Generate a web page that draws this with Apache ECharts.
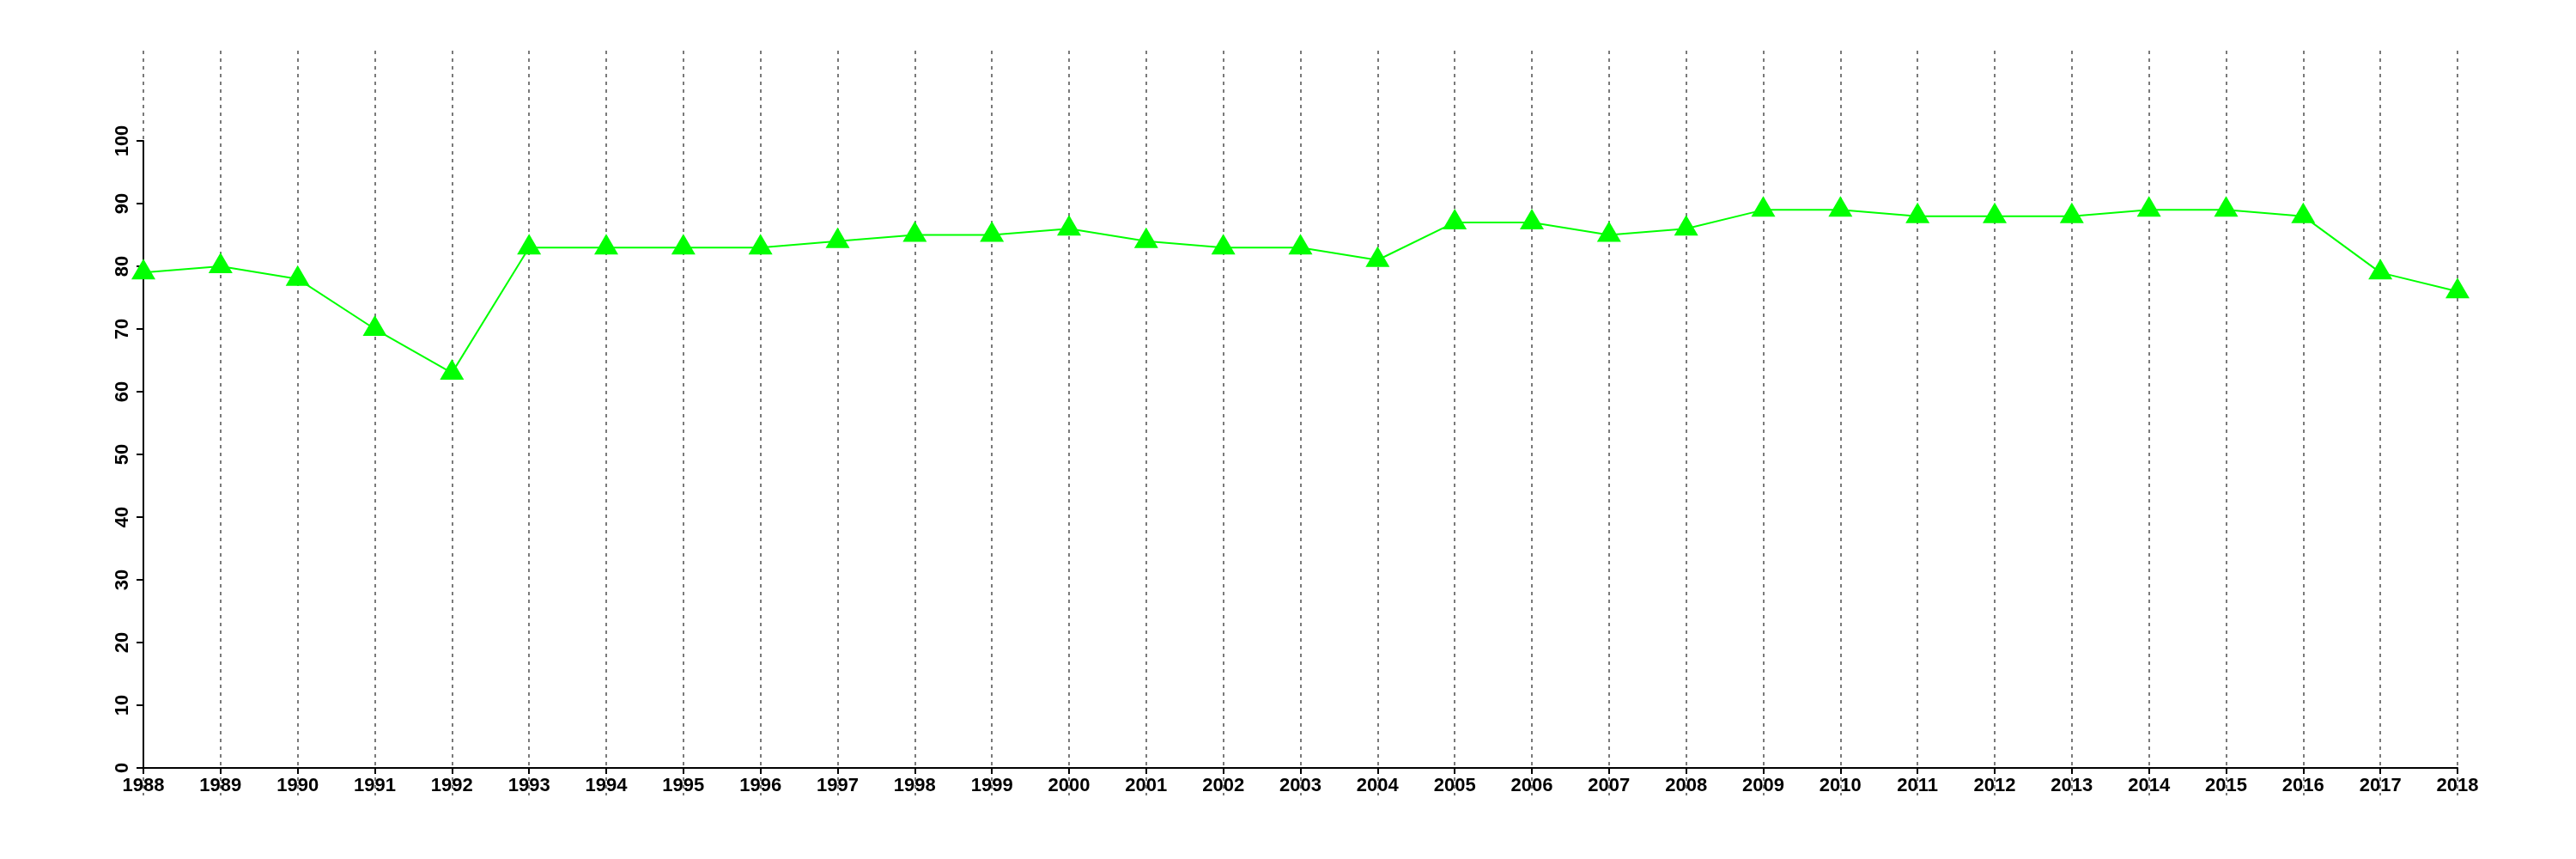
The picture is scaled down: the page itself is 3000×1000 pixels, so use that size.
<!DOCTYPE html>
<html>
<head>
<meta charset="utf-8">
<script src="https://cdn.jsdelivr.net/npm/echarts@6/dist/echarts.min.js"></script>
<style>
html,body{margin:0;padding:0;background:#fff;}
#chart{width:3000px;height:1000px;}
</style>
</head>
<body>
<div id="chart"></div>
<script>
var years = [1988,1989,1990,1991,1992,1993,1994,1995,1996,1997,1998,1999,2000,2001,2002,2003,2004,2005,2006,2007,2008,2009,2010,2011,2012,2013,2014,2015,2016,2017,2018];
var values = [79,80,78,70,63,83,83,83,83,84,85,85,86,84,83,83,81,87,87,85,86,89,89,88,88,88,89,89,88,79,76];
var yTicks = [0,10,20,30,40,50,60,70,80,90,100];

var seriesData = years.map(function(y,i){ return [y, values[i]]; });
var font = '"Liberation Sans", Arial, Helvetica, sans-serif';

var chart = echarts.init(document.getElementById('chart'), null, {renderer:'canvas'});
chart.setOption({
  backgroundColor:'#ffffff',
  animation:false,
  grid:[
    {left:167, right:138, top:59, bottom:74, outerBoundsMode:'none'},
    {left:167, right:138, top:164, bottom:106, outerBoundsMode:'none'}
  ],
  xAxis:[
    {
      gridIndex:0, type:'value', min:years[0], max:years[years.length-1], interval:1,
      axisLine:{show:false}, axisTick:{show:false}, axisLabel:{show:false},
      splitLine:{show:true, lineStyle:{color:'#7a7a7a', width:2, type:[4,5]}}
    },
    {
      gridIndex:1, type:'value', min:years[0], max:years[years.length-1], interval:1,
      axisLine:{show:true, onZero:false, lineStyle:{color:'#000', width:2}},
      axisTick:{show:true, length:7, lineStyle:{color:'#000', width:2}},
      axisLabel:{show:true, margin:10, fontSize:22, fontWeight:'bold', color:'#000', fontFamily:font,
        formatter:function(v){ return String(v); }},
      splitLine:{show:false}
    }
  ],
  yAxis:[
    {
      gridIndex:0, type:'value', min:-4.4, max:114.4, show:false,
      splitLine:{show:false}
    },
    {
      gridIndex:1, type:'value', min:yTicks[0], max:yTicks[yTicks.length-1], interval:10,
      axisLine:{show:true, onZero:false, lineStyle:{color:'#000', width:2}},
      axisTick:{show:true, length:8, lineStyle:{color:'#000', width:2}},
      axisLabel:{show:true, rotate:90, margin:13, fontSize:22, fontWeight:'bold', color:'#000', fontFamily:font},
      splitLine:{show:false}
    }
  ],
  series:[
    {
      type:'line', xAxisIndex:0, yAxisIndex:0,
      data:seriesData,
      symbol:'triangle', symbolSize:[28,24], symbolOffset:[0,-4],
      showAllSymbol:true,
      lineStyle:{color:'#00ff00', width:2},
      itemStyle:{color:'#00ff00'},
      clip:false
    }
  ]
});
</script>
</body>
</html>
